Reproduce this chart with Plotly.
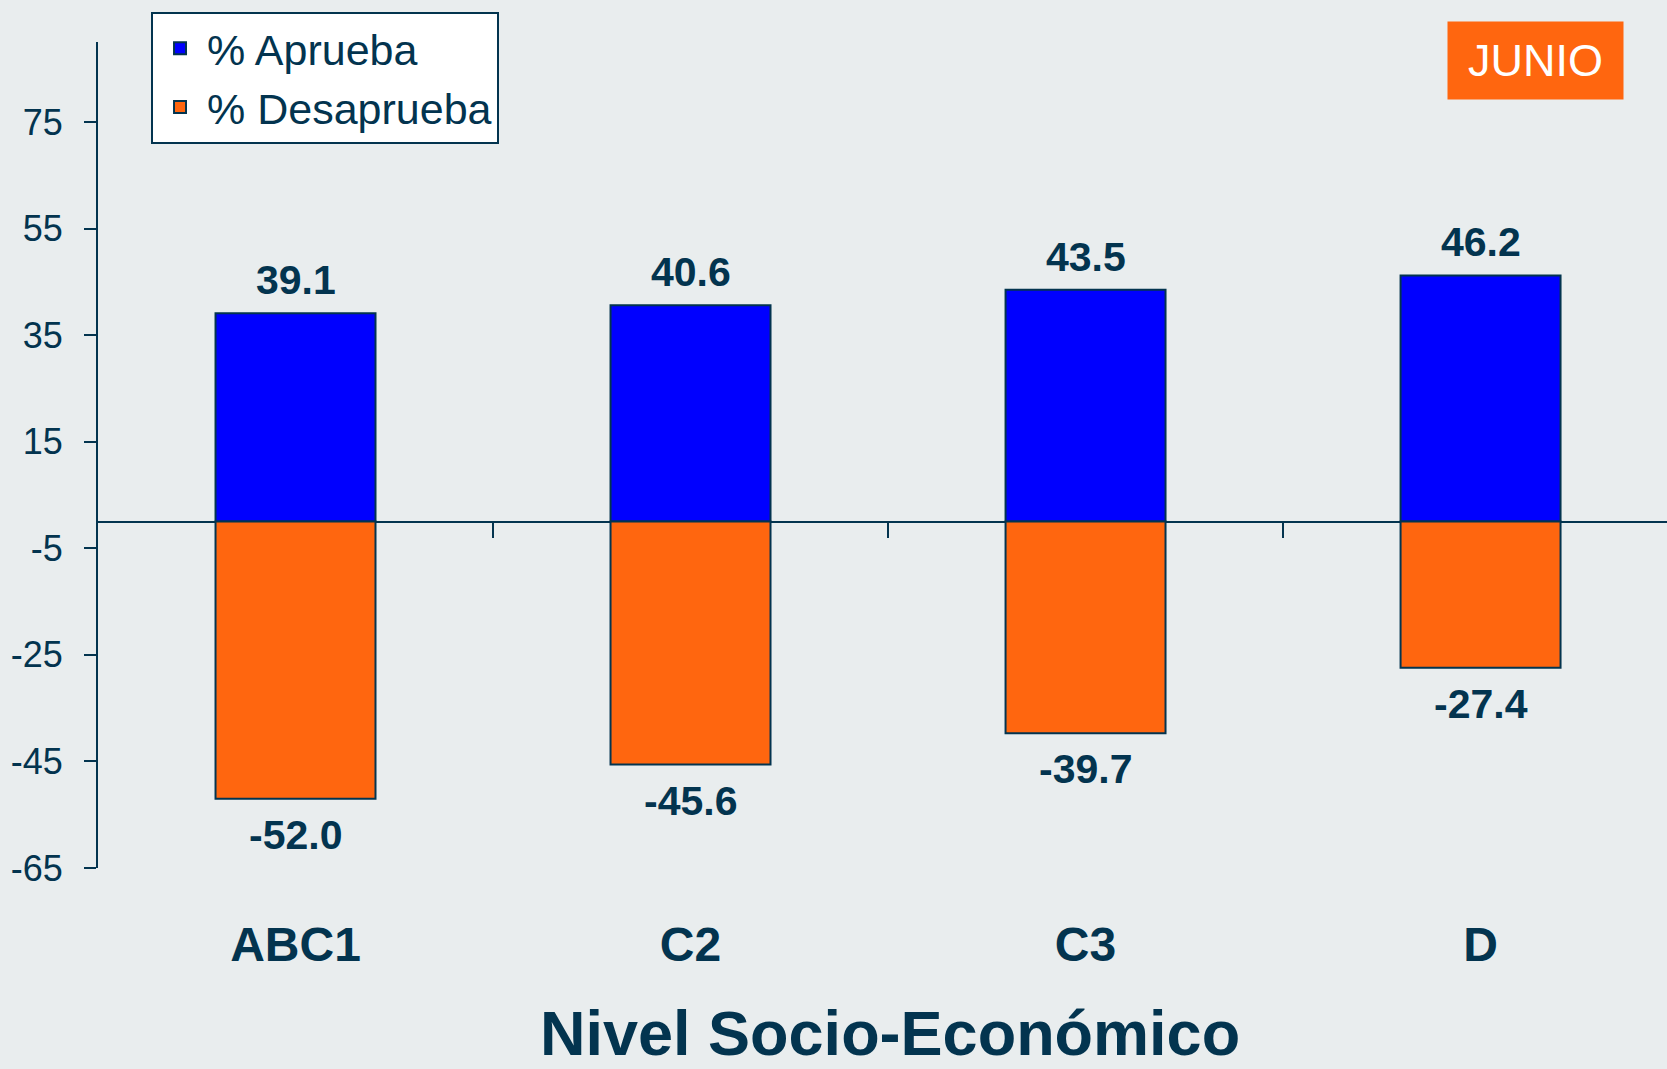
import plotly.graph_objects as go

# datos
niveles = ["ABC1", "C2", "C3", "D"]
aprueba = [39.1, 40.6, 43.5, 46.2]
desaprueba = [-52.0, -45.6, -39.7, -27.4]
y_ticks = [75, 55, 35, 15, -5, -25, -45, -65]

NAVY = "#03344f"
BG = "#e9edee"
AZUL = "#0000ff"
NARANJA = "#ff660f"

fig = go.Figure()
fig.add_trace(go.Bar(
    x=niveles, y=aprueba, name="% Aprueba",
    marker=dict(color=AZUL, line=dict(color=NAVY, width=2)),
))
fig.add_trace(go.Bar(
    x=niveles, y=desaprueba, name="% Desaprueba",
    marker=dict(color=NARANJA, line=dict(color=NAVY, width=2)),
))
# eje auxiliar para las marcas en y=0
fig.add_trace(go.Scatter(x=[], y=[], xaxis="x2", showlegend=False, hoverinfo="skip"))

# etiquetas de valores
for cat, v in zip(niveles, aprueba):
    fig.add_annotation(x=cat, y=v, text=f"<b>{v:.1f}</b>", showarrow=False,
                       yanchor="middle", yshift=33,
                       font=dict(size=41, color=NAVY, family="Liberation Sans"))
for cat, v in zip(niveles, desaprueba):
    fig.add_annotation(x=cat, y=v, text=f"<b>{v:.1f}</b>", showarrow=False,
                       yanchor="middle", yshift=-36,
                       font=dict(size=41, color=NAVY, family="Liberation Sans"))

# recuadro JUNIO
fig.add_annotation(xref="paper", yref="paper", x=0.9162, y=0.977,
                   xanchor="center", yanchor="middle",
                   text="JUNIO", showarrow=False, width=175, height=77,
                   bgcolor=NARANJA, borderpad=0, align="center", valign="middle",
                   font=dict(size=45, color="white", family="Liberation Sans"))

# titulo del eje x (pegado al borde inferior, como en el original)
fig.add_annotation(xref="paper", yref="paper", x=0.5048, y=-0.2,
                   xanchor="center", yanchor="middle", showarrow=False,
                   text="<b>Nivel Socio-Económico</b>",
                   font=dict(size=63, color=NAVY, family="Liberation Sans"))

yr = [-65, 90]
fig.update_layout(
    width=1667, height=1069,
    paper_bgcolor=BG, plot_bgcolor=BG,
    barmode="relative", bargap=0.595,
    margin=dict(l=98, r=0, t=42, b=201),
    font=dict(family="Liberation Sans", color=NAVY),
    showlegend=True,
    legend=dict(x=0.0338, y=1.0367, xanchor="left", yanchor="top",
                bgcolor="white", bordercolor=NAVY, borderwidth=2, itemwidth=44,
                font=dict(size=43, color=NAVY), traceorder="normal"),
    xaxis=dict(
        type="category", range=[-0.5, 3.472], showline=False, showgrid=False,
        zeroline=False, ticks="outside", ticklen=34, tickcolor="rgba(0,0,0,0)",
        automargin=False,
        tickfont=dict(size=48, color=NAVY, family="Liberation Sans", weight="bold"),
    ),
    xaxis2=dict(
        type="linear", range=[-0.5, 3.472], overlaying="x", anchor="free",
        position=(0 - yr[0]) / (yr[1] - yr[0]), side="bottom",
        showline=False, showgrid=False, zeroline=False, showticklabels=False,
        ticks="outside", ticklen=15, tickwidth=2, tickcolor=NAVY,
        tickmode="array", tickvals=[0.5, 1.5, 2.5],
    ),
    yaxis=dict(
        range=yr, showline=True, linecolor=NAVY, linewidth=2, showgrid=False,
        zeroline=True, zerolinecolor=NAVY, zerolinewidth=2,
        ticks="outside", ticklen=12, tickwidth=2, tickcolor=NAVY,
        tickmode="array", tickvals=y_ticks, ticktext=[str(v) for v in y_ticks],
        ticklabelstandoff=14,
        tickfont=dict(size=36, color=NAVY, family="Liberation Sans"),
    ),
)

fig.write_html("out.html", config={"displayModeBar": False},
               post_script="document.body.style.margin='0';"
                           "document.body.style.background='#e9edee';")
